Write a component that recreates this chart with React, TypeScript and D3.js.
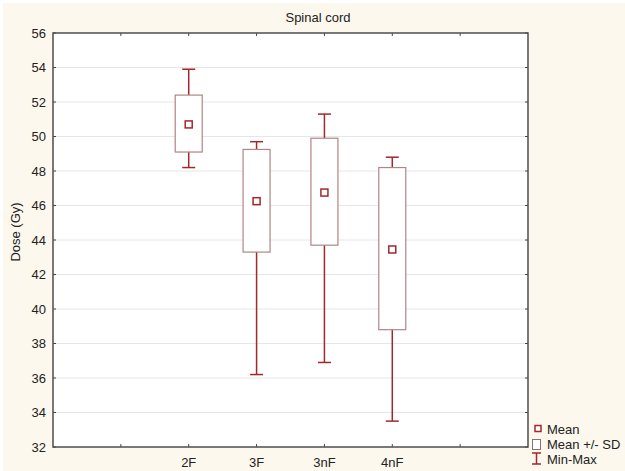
import React from "react";
import * as d3 from "d3";

const categories = ["", "2F", "3F", "3nF", "4nF", ""];
const groups = ["2F", "3F", "3nF", "4nF"];
const minValues = [48.2, 36.2, 36.9, 33.5];
const sdLow = [49.1, 43.3, 43.7, 38.8];
const meanValues = [50.7, 46.25, 46.75, 43.45];
const sdHigh = [52.4, 49.25, 49.9, 48.2];
const maxValues = [53.9, 49.7, 51.3, 48.8];
const yTicks = [32, 34, 36, 38, 40, 42, 44, 46, 48, 50, 52, 54, 56];
const legendLabels = ["Mean", "Mean +/- SD", "Min-Max"];

const W = 625;
const H = 471;
const left = 53;
const right = 528;
const top = 33;
const bottom = 447;
const font = "Arial, 'Liberation Sans', sans-serif";
const darkRed = "#a3282b";
const boxColor = "#b08585";
const fs = 13;

export default function App() {
  const xKeys = categories.map((c, i) => c + "_" + i);
  const x = d3.scalePoint<string>().domain(xKeys).range([left, right]).padding(1);
  const y = d3.scaleLinear().domain([32, 56]).range([bottom, top]);
  const boxW = 27;
  const capW = 13;

  return (
    <svg
      width={W}
      height={H}
      style={{ position: "absolute", left: 0, top: 0, fontFamily: font }}
    >
      <rect x={0} y={0} width={W} height={H} fill="#ffffff" />
      <rect x={3} y={3} width={W - 3} height={H - 3} fill="#fdf8ed" />
      <rect x={left} y={top} width={right - left} height={bottom - top} fill="#ffffff" />
      {yTicks.slice(1, -1).map((t) => (
        <line key={"g" + t} x1={left} x2={right} y1={y(t)} y2={y(t)} stroke="#e6e6e6" strokeWidth={1} />
      ))}
      {yTicks.map((t) => (
        <g key={"yt" + t}>
          <line x1={left} x2={left + 3} y1={y(t)} y2={y(t)} stroke="#444" />
          <line x1={right - 3} x2={right} y1={y(t)} y2={y(t)} stroke="#444" />
          <text x={46} y={y(t)} dy="0.35em" textAnchor="end" fontSize={fs} fill="#222">
            {t}
          </text>
        </g>
      ))}
      {xKeys.map((k, i) => (
        <g key={"xt" + i}>
          <line x1={x(k)} x2={x(k)} y1={bottom} y2={bottom - 3} stroke="#444" />
          <line x1={x(k)} x2={x(k)} y1={top} y2={top + 3} stroke="#444" />
          <text x={x(k)} y={462} dy="0.35em" textAnchor="middle" fontSize={fs} fill="#222">
            {categories[i]}
          </text>
        </g>
      ))}
      {groups.map((g, i) => {
        const cx = x(xKeys[categories.indexOf(g)]) as number;
        return (
          <g key={g}>
            <line x1={cx} x2={cx} y1={y(maxValues[i])} y2={y(sdHigh[i])} stroke={darkRed} strokeWidth={1.5} />
            <line x1={cx} x2={cx} y1={y(sdLow[i])} y2={y(minValues[i])} stroke={darkRed} strokeWidth={1.5} />
            <line x1={cx - capW / 2} x2={cx + capW / 2} y1={y(maxValues[i])} y2={y(maxValues[i])} stroke={darkRed} strokeWidth={1.5} />
            <line x1={cx - capW / 2} x2={cx + capW / 2} y1={y(minValues[i])} y2={y(minValues[i])} stroke={darkRed} strokeWidth={1.5} />
            <rect
              x={cx - boxW / 2}
              y={y(sdHigh[i])}
              width={boxW}
              height={y(sdLow[i]) - y(sdHigh[i])}
              fill="#ffffff"
              stroke={boxColor}
              strokeWidth={1.2}
            />
            <rect
              x={cx - 3.5}
              y={y(meanValues[i]) - 3.5}
              width={7}
              height={7}
              fill="#ffffff"
              stroke={darkRed}
              strokeWidth={1.5}
            />
          </g>
        );
      })}
      <rect x={left} y={top} width={right - left} height={bottom - top} fill="none" stroke="#4d4d4d" strokeWidth={1.5} />
      <text x={318} y={17} dy="0.35em" textAnchor="middle" fontSize={fs} fill="#222">
        Spinal cord
      </text>
      <text
        transform={`translate(15,${232}) rotate(-90)`}
        dy="0.35em"
        textAnchor="middle"
        fontSize={fs}
        fill="#222"
      >
        Dose (Gy)
      </text>
      <rect x={535} y={425.5} width={6} height={6} fill="#fff" stroke={darkRed} strokeWidth={1.5} />
      <rect x={532.5} y={439.5} width={8} height={10} fill="#fff" stroke="#8a7070" strokeWidth={1} />
      <line x1={536.5} x2={536.5} y1={453} y2={464} stroke={darkRed} strokeWidth={1.5} />
      <line x1={532} x2={541} y1={453} y2={453} stroke={darkRed} strokeWidth={1.5} />
      <line x1={532} x2={541} y1={464} y2={464} stroke={darkRed} strokeWidth={1.5} />
      {legendLabels.map((l, i) => (
        <text key={l} x={547} y={[429, 444, 459][i]} dy="0.35em" fontSize={fs} fill="#222">
          {l}
        </text>
      ))}
    </svg>
  );
}
